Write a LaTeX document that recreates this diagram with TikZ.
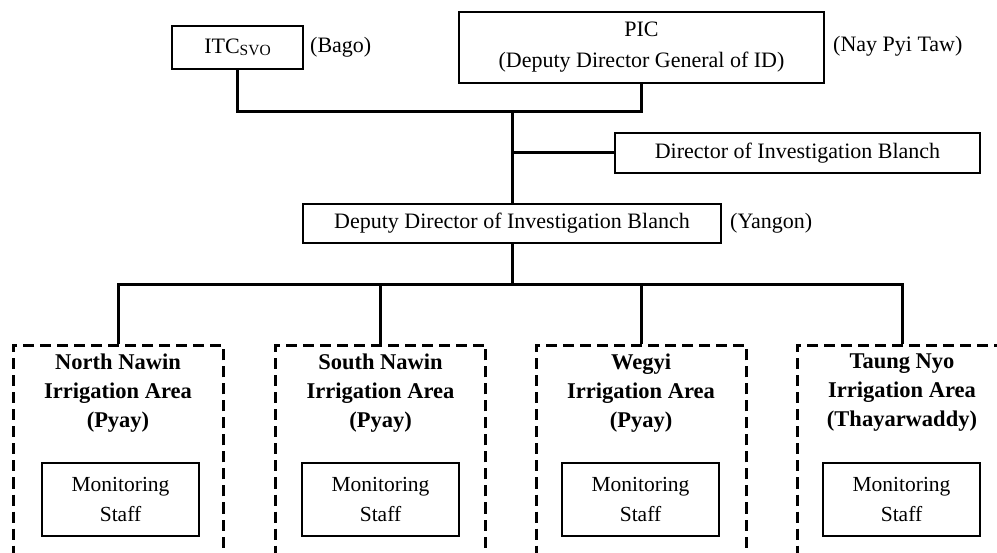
\documentclass[tikz,border=0pt]{standalone}
\usepackage{fontspec}
\setmainfont{Liberation Serif}
\begin{document}
\begin{tikzpicture}[x=1pt,y=-1pt,
  box/.style={draw, line width=1.4pt, inner sep=0pt, align=center, font=\fontsize{22}{31}\selectfont},
  conn/.style={line width=3pt},
  area/.style={draw, line width=3pt, dash pattern=on 11pt off 6pt, minimum width=210pt, minimum height=230pt, anchor=north, inner sep=0pt},
  lbl/.style={font=\fontsize{22}{25}\selectfont, anchor=west, inner sep=0pt},
  areatxt/.style={align=center, font=\bfseries\fontsize{22.5}{29}\selectfont, inner sep=0pt},
  mon/.style={box, minimum width=157pt, minimum height=73pt, font=\fontsize{21.5}{30}\selectfont}
]
\clip (0,0) rectangle (997,553);
\fill[white] (0,0) rectangle (997,553);

% top level
\node[box, minimum width=131pt, minimum height=43pt] (itc) at (237.5,47.5) {ITC{\fontsize{15.5}{15}\selectfont\raisebox{-2.5pt}{SVO}}};
\node[lbl] (bago) at (310,47.5) {(Bago)};
\node[box, minimum width=365pt, minimum height=71pt] (pic) at (641.5,47.5) {PIC\\(Deputy Director General of ID)};
\node[lbl] (npt) at (833,46) {(Nay Pyi Taw)};
\node[box, minimum width=365pt, minimum height=40pt] (dir) at (797.5,153) {Director of Investigation Blanch};
\node[box, minimum width=418pt, minimum height=39pt] (dep) at (512,223.5) {Deputy Director of Investigation Blanch};
\node[lbl] (ygn) at (730,223.5) {(Yangon)};

% irrigation areas
\node[area] (a1) at (118,344) {};
\node[area] (a2) at (380.5,344) {};
\node[area] (a3) at (641,344) {};
\node[area] (a4) at (902,344) {};

\node[areatxt] (t1) at (118,393) {North Nawin\\Irrigation Area\\(Pyay)};
\node[areatxt] (t2) at (380.5,393) {South Nawin\\Irrigation Area\\(Pyay)};
\node[areatxt] (t3) at (641,393) {Wegyi\\Irrigation Area\\(Pyay)};
\node[areatxt] (t4) at (902,393) {Taung Nyo\\Irrigation Area\\(Thayarwaddy)};

\node[mon] (m1) at (120.5,499.5) {Monitoring\\Staff};
\node[mon] (m2) at (380.5,499.5) {Monitoring\\Staff};
\node[mon] (m3) at (640.5,499.5) {Monitoring\\Staff};
\node[mon] (m4) at (901.5,499.5) {Monitoring\\Staff};

% connectors
\coordinate (j1) at (512,112);
\coordinate (j2) at (512,285);
\draw[conn] (itc.south) |- (j1);
\draw[conn] (pic.south) |- (j1);
\draw[conn] (j1) -- (dep.north);
\draw[conn] (dir.west) -- (dir.west -| j1);
\draw[conn] (dep.south) -- (j2);
\draw[conn] (a1.north) |- (a4.north |- j2) -- (a4.north);
\draw[conn] (a2.north) -- (a2.north |- j2);
\draw[conn] (a3.north) -- (a3.north |- j2);
\end{tikzpicture}
\end{document}
